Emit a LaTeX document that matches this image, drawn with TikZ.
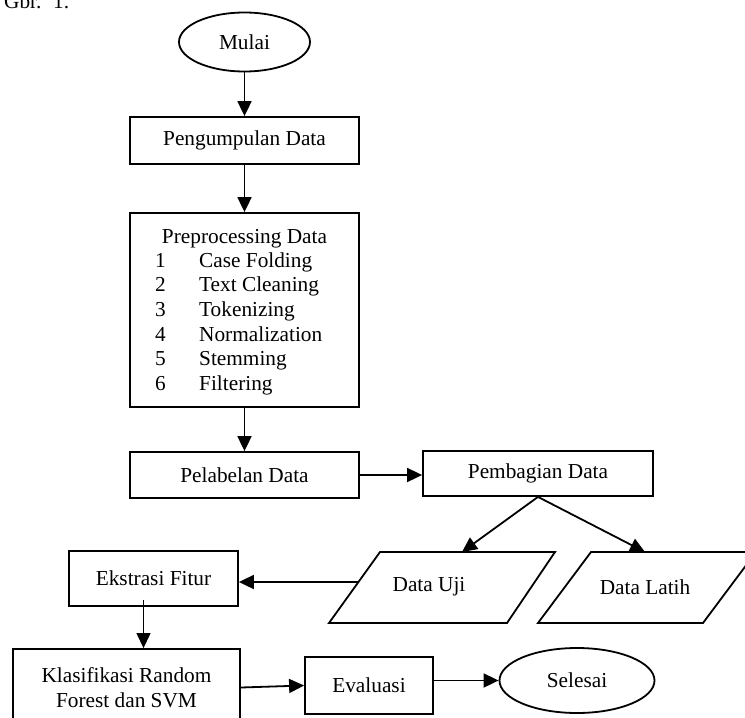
\documentclass[tikz,border=0pt]{standalone}
\usepackage{fontspec}
\setmainfont{Liberation Serif}
\usetikzlibrary{arrows.meta,shapes.geometric}
\begin{document}
\begin{tikzpicture}[x=1pt,y=-1pt,
  font=\fontsize{21.3}{25}\selectfont,
  blok/.style={draw,line width=1.8pt,minimum width=229pt,minimum height=46pt,inner sep=0pt},
  oval/.style={draw,ellipse,line width=1.8pt,inner sep=0pt},
  panah/.style={line width=1.8pt,-{Triangle[length=15pt,width=14pt]}},
  jajar/.style={line width=1.8pt,line join=miter}]
\useasboundingbox (0,0) rectangle (745,718);
\node[anchor=base west,inner sep=0pt] (gbr) at (4,8) {Gbr.\hspace{0.55em}1.};
\node[oval,minimum width=131pt,minimum height=59pt] (mulai) at (244.5,42) {Mulai};
\node[blok,minimum height=47pt] (kumpul) at (244.5,140.5) {Pengumpulan Data};
\node[blok,minimum height=194pt] (prepro) at (244.5,310) {};
\node[anchor=base] (judul) at (244.5,243) {Preprocessing Data};
\foreach \t [count=\i] in {Case Folding,Text Cleaning,Tokenizing,Normalization,Stemming,Filtering}{
  \node[anchor=base west,inner sep=0pt] (no\i) at (155,242.3+24.7*\i) {\i};
  \node[anchor=base west,inner sep=0pt] (langkah\i) at (199,242.3+24.7*\i) {\t};
}
\node[blok] (labelan) at (244.5,475) {Pelabelan Data};
\node[blok,minimum width=230pt,minimum height=45pt] (bagi) at (538,473.5) {Pembagian Data};
\draw[jajar] (329,623) -- (380,552) -- (555,552) -- (507,623) -- cycle;
\draw[jajar] (538,623) -- (591,552) -- (756,552) -- (703,623) -- cycle;
\node (uji) at (429,587) {Data Uji};
\node (latih) at (645,587) {Data Latih};
\coordinate (ujiatas) at (462,552);
\coordinate (latihatas) at (645,552);
\coordinate (ujikiri) at (358,582);
\node[blok,minimum width=169pt,minimum height=55pt] (fitur) at (153.5,578.5) {Ekstrasi Fitur};
\node[blok,minimum width=227pt,minimum height=77pt,align=center] (klasifikasi) at (126.5,687.5) {Klasifikasi Random\\Forest dan SVM};
\node[blok,minimum width=128pt,minimum height=57pt] (evaluasi) at (369,685.5) {Evaluasi};
\node[oval,minimum width=155pt,minimum height=65pt] (selesai) at (577,680.5) {Selesai};
\draw[panah] (mulai) -- (kumpul);
\draw[panah] (kumpul) -- (prepro);
\draw[panah] (prepro) -- (labelan);
\draw[panah] (labelan.east) -- (labelan.east -| bagi.west);
\draw[panah] (bagi.south) -- (ujiatas);
\draw[panah] (bagi.south) -- (latihatas);
\draw[panah] (ujikiri) -- (ujikiri -| fitur.east);
\draw[panah,line width=1.1pt] ([xshift=-10pt,yshift=7pt]fitur.south) -- ([xshift=-10pt]fitur.south |- klasifikasi.north);
\draw[panah] (klasifikasi.east) -- (evaluasi.west);
\draw[panah] (selesai.west -| evaluasi.east) -- (selesai.west);
\end{tikzpicture}
\end{document}
